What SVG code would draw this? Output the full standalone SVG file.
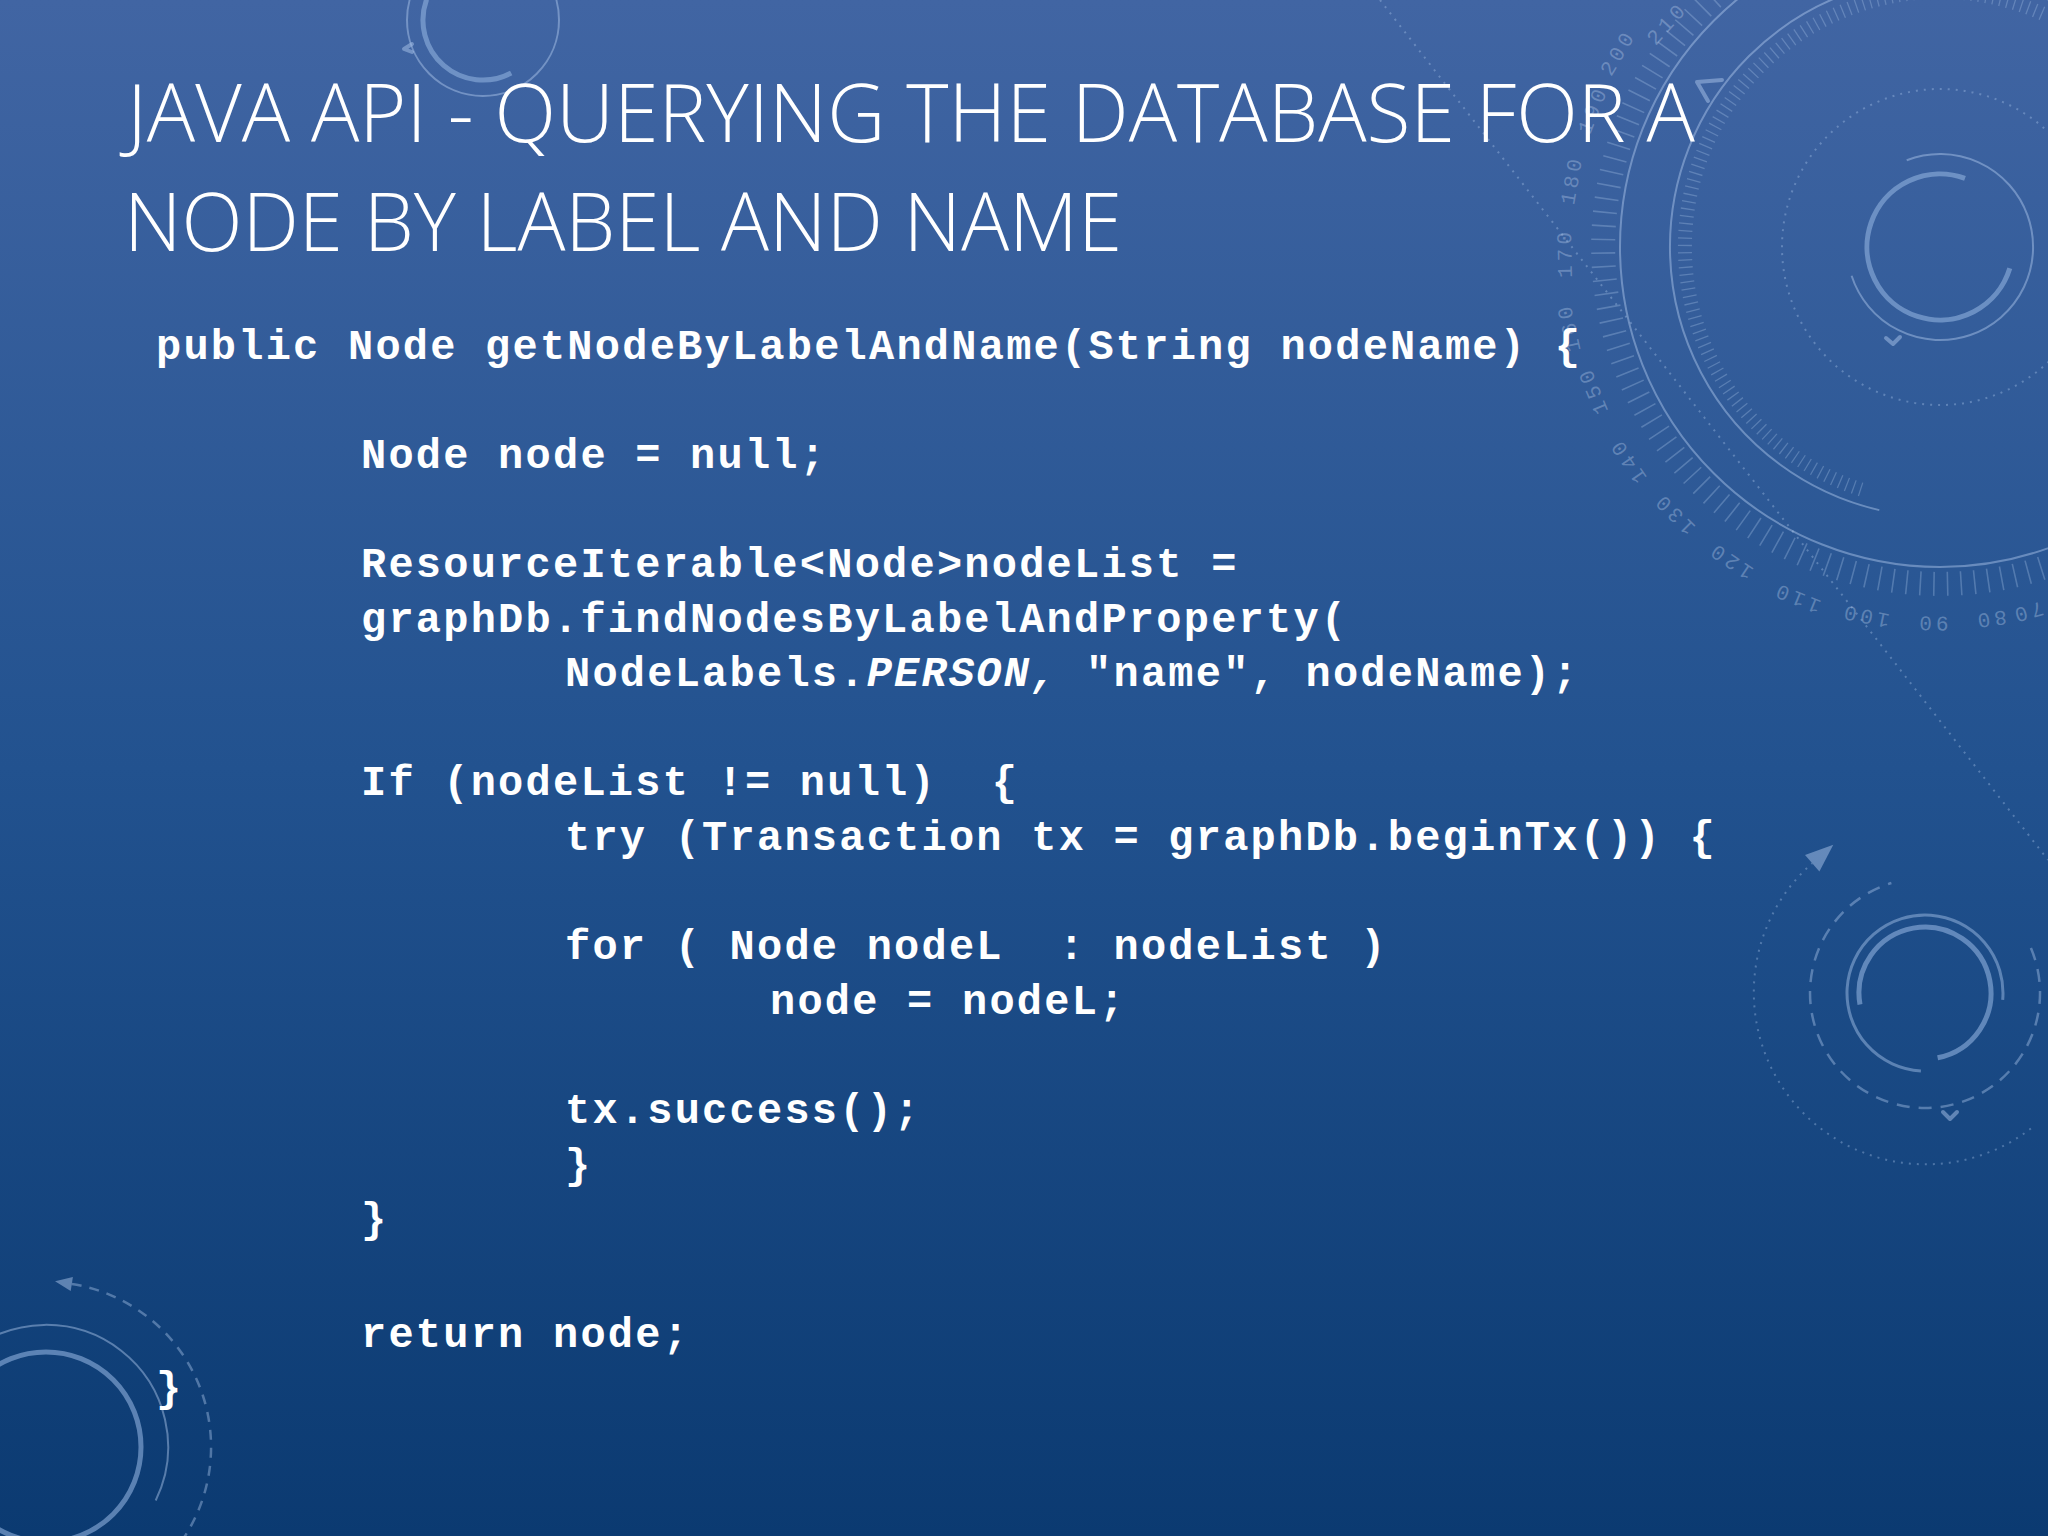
<svg xmlns="http://www.w3.org/2000/svg" width="2048" height="1536" viewBox="0 0 2048 1536" xml:space="preserve">
<defs>
<linearGradient id="bg" x1="0" y1="0" x2="0" y2="1">
<stop offset="0" stop-color="#4165a3"/>
<stop offset="0.5" stop-color="#22528f"/>
<stop offset="1" stop-color="#0b3a71"/>
</linearGradient>
<style>
.title{font-family:"Open Sans","Noto Sans",sans-serif;font-weight:300;font-size:81px;fill:#ffffff}
.code{font-family:"Liberation Mono","Courier New",monospace;font-weight:bold;font-size:42px;letter-spacing:2.22px;fill:#ffffff;white-space:pre}
.it{font-style:italic}
.thin{fill:none;stroke:#b4cdf0;stroke-opacity:0.45;stroke-width:2}
.thick{fill:none;stroke:#8fb0dd;stroke-opacity:0.6;stroke-width:5}
.mid{fill:none;stroke:#9dbbe4;stroke-opacity:0.5;stroke-width:3}
.dash{fill:none;stroke:#b4cdf0;stroke-opacity:0.4;stroke-width:2.5;stroke-dasharray:13 9}
.dot{fill:none;stroke:#b4cdf0;stroke-opacity:0.35;stroke-width:2;stroke-dasharray:2 6}
.tick{fill:none;stroke:#b4cdf0;stroke-opacity:0.3}
.num{font-family:"Liberation Mono",monospace;font-size:21px;fill:#c2d6f2;fill-opacity:0.35;letter-spacing:4px;text-anchor:middle;dominant-baseline:central}
.chev{fill:none;stroke:#a9c4ea;stroke-opacity:0.5;stroke-width:4;stroke-linecap:round;stroke-linejoin:round}
.arrow{fill:#a9c4ea;fill-opacity:0.5}
</style>
</defs>
<rect id="background" x="0" y="0" width="2048" height="1536" fill="url(#bg)"/>
<g id="decorations">
<g id="hud-top-right">
<line class="dot" x1="1380" y1="0" x2="2048" y2="860"/>
<circle class="thin" cx="1940" cy="247" r="320" stroke-width="2.5"/>
<path class="thin" stroke-width="2.5" d="M1879.3,510.1 A270,270 0 1 1 2075,13.2"/>
<path class="tick" style="stroke-width:24px;stroke-dasharray:1.6 12" d="M2198.2,463.7 A337,337 0 1 1 1746.7,-29"/>
<path class="tick" style="stroke-width:14px;stroke-dasharray:1.3 6" d="M1861.2,489.5 A255,255 0 1 1 2047.8,15.9"/>
<circle class="dot" cx="1940" cy="247" r="158"/>
<path class="thin" d="M1906.7,160.2 A93,93 0 1 1 1851.6,275.7"/>
<path class="thick" stroke-width="4" d="M2009.8,268.3 A73,73 0 1 1 1965,178.4"/>
<polyline class="chev" points="1722,80 1697,82 1708,101"/>
<polyline class="chev" stroke-width="2" points="1886,338 1893,344 1900,337"/>
<text class="num" transform="translate(2027,611) rotate(164.5)">70</text>
<text class="num" transform="translate(1990,618) rotate(172)">80</text>
<text class="num" transform="translate(1932,622) rotate(181)">90</text>
<text class="num" transform="translate(1865,615) rotate(191.5)">100</text>
<text class="num" transform="translate(1797,597) rotate(202)">110</text>
<text class="num" transform="translate(1731,560) rotate(213.7)">120</text>
<text class="num" transform="translate(1675,513) rotate(225)">130</text>
<text class="num" transform="translate(1629,460) rotate(235.6)">140</text>
<text class="num" transform="translate(1594,390) rotate(247.5)">150</text>
<text class="num" transform="translate(1570,327) rotate(257.8)">160</text>
<text class="num" transform="translate(1566,253) rotate(269)">170</text>
<text class="num" transform="translate(1573,180) rotate(280)">180</text>
<text class="num" transform="translate(1594,110) rotate(291.6)">190</text>
<text class="num" transform="translate(1619,53) rotate(301)">200</text>
<text class="num" transform="translate(1668,24) rotate(312)">210</text>
</g>
<g id="hud-right-middle">
<path class="thick" d="M1860,1004.5 A66,66 0 1 1 1937.6,1057.8"/>
<path class="mid" d="M1920.9,1070.9 A78,78 0 1 1 2002.7,999.8"/>
<path class="dash" d="M2030.9,948.1 A115,115 0 1 1 1891.4,883"/>
<path class="dot" d="M2030.9,1128.5 A172,172 0 0 1 1812.2,863.2"/>
<polygon class="arrow" points="1833.3,844.8 1805,854.9 1819.4,871.5"/>
<polyline class="chev" stroke-width="2" points="1943,1112 1950,1119 1957,1112"/>
</g>
<g id="hud-bottom-left">
<circle class="thick" cx="46" cy="1447" r="95"/>
<path class="thin" d="M-32.4,1353.5 A122,122 0 0 1 155.7,1500.5"/>
<path class="dash" style="stroke-dasharray:10 8" d="M71.8,1284 A165,165 0 0 1 162.7,1563.7"/>
<polygon class="arrow" points="55,1281.3 72.9,1277.1 70.7,1290.9"/>
</g>
<g id="hud-top-center">
<circle class="thin" cx="483" cy="20" r="76"/>
<path class="thick" stroke-width="4" d="M511.2,73 A60,60 0 0 1 426.6,-0.5"/>
<polyline class="chev" stroke-width="2" points="412,44 404,49 412,52"/>
</g>
</g>
<g id="title">
<text class="title" x="127" y="142" textLength="1568" lengthAdjust="spacingAndGlyphs">JAVA API - QUERYING THE DATABASE FOR A</text>
<text class="title" x="124" y="251" textLength="998" lengthAdjust="spacingAndGlyphs">NODE BY LABEL AND NAME</text>
</g>
<g id="code">
<text class="code" x="156" y="359">public Node getNodeByLabelAndName(String nodeName) {</text>
<text class="code" x="361" y="467.5">Node node = null;</text>
<text class="code" x="361" y="576.5">ResourceIterable&lt;Node&gt;nodeList =</text>
<text class="code" x="361" y="631.5">graphDb.findNodesByLabelAndProperty(</text>
<text class="code" x="565" y="686">NodeLabels.<tspan class="it">PERSON,</tspan> "name", nodeName);</text>
<text class="code" x="361" y="795">If (nodeList != null)  {</text>
<text class="code" x="565" y="850">try (Transaction tx = graphDb.beginTx()) {</text>
<text class="code" x="565" y="959">for ( Node nodeL  : nodeList )</text>
<text class="code" x="770" y="1014">node = nodeL;</text>
<text class="code" x="565" y="1123">tx.success();</text>
<text class="code" x="565" y="1178">}</text>
<text class="code" x="361" y="1232">}</text>
<text class="code" x="361" y="1347">return node;</text>
<text class="code" x="156" y="1401">}</text>
</g>
</svg>
